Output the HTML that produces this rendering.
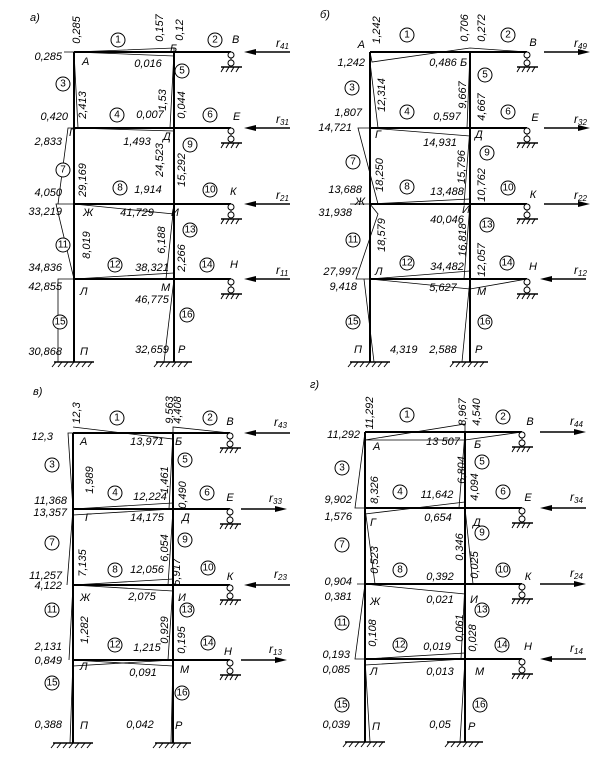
<!DOCTYPE html>
<html><head><meta charset="utf-8"><style>
html,body{margin:0;padding:0;background:#fff}
svg{display:block}
text{font-family:"Liberation Sans",sans-serif;font-style:italic;font-size:11px;fill:#000;dominant-baseline:middle}
.n{text-anchor:middle;font-size:10px;font-style:normal}
.e{text-anchor:end}
.m{text-anchor:middle}
.c{fill:#fff;stroke:#000;stroke-width:1}
.r{font-size:12px}
</style></head><body>
<svg width="605" height="759" viewBox="0 0 605 759" xmlns="http://www.w3.org/2000/svg">
<defs>
<g id="frame">
 <g stroke="#000" stroke-width="2" fill="none">
  <line x1="0" y1="0" x2="0" y2="310"/><line x1="100" y1="0" x2="100" y2="310"/>
  <line x1="0" y1="0" x2="157" y2="0"/><line x1="0" y1="76" x2="157" y2="76"/>
  <line x1="0" y1="152" x2="157" y2="152"/><line x1="0" y1="227" x2="157" y2="227"/>
 </g>
 <g stroke="#000" stroke-width="1" fill="none">
  <line x1="-20" y1="310" x2="20" y2="310" stroke-width="1.5"/>
  <path d="M-18 310l-4 5M-12 310l-4 5M-6 310l-4 5M0 310l-4 5M6 310l-4 5M12 310l-4 5M18 310l-4 5"/>
  <line x1="82" y1="310" x2="118" y2="310" stroke-width="1.5"/>
  <path d="M84 310l-4 5M90 310l-4 5M96 310l-4 5M102 310l-4 5M108 310l-4 5M114 310l-4 5"/>
 </g>
 <g id="sup">
  <circle cx="157" cy="3" r="3" class="c"/><circle cx="157" cy="11" r="3" class="c"/>
  <line x1="157" y1="6" x2="157" y2="8" stroke="#000"/>
  <line x1="147" y1="15" x2="168" y2="15" stroke="#000" stroke-width="1.5"/>
  <path d="M150 15l-3 5M155 15l-3 5M160 15l-3 5M165 15l-3 5" stroke="#000"/>
 </g>
 <use href="#sup" y="76"/><use href="#sup" y="152"/><use href="#sup" y="227"/>
</g>
<polygon id="al" points="0,0 12,-3 12,3" fill="#000"/>
<polygon id="ar" points="0,0 -12,-3 -12,3" fill="#000"/>
</defs>

<!-- ===== Panel a ===== -->
<g transform="translate(74,52)">
 <use href="#frame"/>
 <g stroke="#000" stroke-width="0.8" fill="none">
  <path d="M-10 0L0 0L4 76M0 0L100 -4L100 4L0 0M100 0l-4 76M0 76L-6 76L-16 152L0 152M0 76l100 3M100 76l57 0M0 152L-18 152L0 227M0 152l100 10M100 152l-8 75L100 227M100 227l57 0M0 227l-16 0 0 83M100 227l-10 83M0 227l100-6"/>
 </g>
 <text x="-44" y="-34">а)</text>
 <text transform="translate(3,-22) rotate(-90)" class="m">0,285</text>
 <text transform="translate(86,-24) rotate(-90)" class="m">0,157</text>
 <text transform="translate(106,-22) rotate(-90)" class="m">0,12</text>
 <text x="96" y="-3">Б</text><text x="158" y="-12">В</text>
 <text x="-12" y="5" class="e">0,285</text><text x="8" y="10">А</text>
 <text x="74" y="12" class="m">0,016</text>
 <text transform="translate(9,53) rotate(-90)" class="m">2,413</text>
 <text transform="translate(89,48) rotate(-90)" class="m">1,53</text>
 <text transform="translate(108,53) rotate(-90)" class="m">0,044</text>
 <text x="-6" y="65" class="e">0,420</text><text x="76" y="63" class="m">0,007</text>
 <text x="159" y="65">Е</text><text x="-5" y="81">Г</text>
 <text x="-12" y="90" class="e">2,833</text><text x="63" y="90" class="m">1,493</text><text x="89" y="85">Д</text>
 <text transform="translate(9,128) rotate(-90)" class="m">29,169</text>
 <text transform="translate(86,108) rotate(-90)" class="m">24,523</text>
 <text transform="translate(108,118) rotate(-90)" class="m">15,292</text>
 <text x="74" y="138" class="m">1,914</text><text x="156" y="140">К</text>
 <text x="-12" y="141" class="e">4,050</text><text x="-12" y="160" class="e">33,219</text>
 <text x="9" y="161">Ж</text><text x="63" y="161" class="m">41,729</text><text x="97" y="161">И</text>
 <text transform="translate(13,193) rotate(-90)" class="m">8,019</text>
 <text transform="translate(88,188) rotate(-90)" class="m">6,188</text>
 <text transform="translate(108,206) rotate(-90)" class="m">2,266</text>
 <text x="-12" y="216" class="e">34,836</text><text x="78" y="216" class="m">38,321</text><text x="156" y="213">Н</text>
 <text x="-12" y="235" class="e">42,855</text><text x="6" y="240">Л</text><text x="87" y="236">М</text>
 <text x="78" y="248" class="m">46,775</text>
 <text x="-12" y="300" class="e">30,868</text><text x="6" y="300">П</text>
 <text x="78" y="298" class="m">32,659</text><text x="104" y="298">Р</text>
 <g>
  <circle cx="44" cy="-12" r="7" class="c"/><text x="44" y="-12" class="n">1</text>
  <circle cx="141" cy="-12" r="7" class="c"/><text x="141" y="-12" class="n">2</text>
  <circle cx="-11" cy="32" r="7" class="c"/><text x="-11" y="32" class="n">3</text>
  <circle cx="108" cy="19" r="7" class="c"/><text x="108" y="19" class="n">5</text>
  <circle cx="43" cy="63" r="7" class="c"/><text x="43" y="63" class="n">4</text>
  <circle cx="136" cy="63" r="7" class="c"/><text x="136" y="63" class="n">6</text>
  <circle cx="-11" cy="118" r="7" class="c"/><text x="-11" y="118" class="n">7</text>
  <circle cx="116" cy="93" r="7" class="c"/><text x="116" y="93" class="n">9</text>
  <circle cx="46" cy="136" r="7" class="c"/><text x="46" y="136" class="n">8</text>
  <circle cx="136" cy="138" r="7" class="c"/><text x="136" y="138" class="n">10</text>
  <circle cx="-11" cy="193" r="7" class="c"/><text x="-11" y="193" class="n">11</text>
  <circle cx="116" cy="178" r="7" class="c"/><text x="116" y="178" class="n">13</text>
  <circle cx="41" cy="213" r="7" class="c"/><text x="41" y="213" class="n">12</text>
  <circle cx="133" cy="213" r="7" class="c"/><text x="133" y="213" class="n">14</text>
  <circle cx="-14" cy="270" r="7" class="c"/><text x="-14" y="270" class="n">15</text>
  <circle cx="113" cy="263" r="7" class="c"/><text x="113" y="263" class="n">16</text>
 </g>
 <g stroke="#000" stroke-width="1.5">
  <line x1="178" y1="0" x2="216" y2="0"/><line x1="178" y1="76" x2="216" y2="76"/>
  <line x1="178" y1="152" x2="216" y2="152"/><line x1="178" y1="227" x2="216" y2="227"/>
 </g>
 <use href="#al" x="170" y="0"/><use href="#al" x="170" y="76"/><use href="#al" x="170" y="152"/><use href="#al" x="170" y="227"/>
 <text x="202" y="-8" class="r">r<tspan font-size="8" dy="3">41</tspan></text>
 <text x="202" y="68" class="r">r<tspan font-size="8" dy="3">31</tspan></text>
 <text x="202" y="144" class="r">r<tspan font-size="8" dy="3">21</tspan></text>
 <text x="202" y="219" class="r">r<tspan font-size="8" dy="3">11</tspan></text>
</g>

<!-- ===== Panel b ===== -->
<g transform="translate(370,52)">
 <use href="#frame"/>
 <g stroke="#000" stroke-width="0.8" fill="none">
  <path d="M0 0L2 10L100 -4L157 0M100 0l-3 76M0 10L8 76L0 76M0 76L100 84M100 76l57 0M0 76l-12 0L8 152M100 76l-6 76M0 152l-20 0M0 152l100-5M100 152l-6 75M0 152l8 10L-14 227L0 227M0 227l100-8M100 227l-8 83M0 227l100 10M0 227l-6 0 10 83M100 237l57-10"/>
 </g>
 <text x="-50" y="-37">б)</text>
 <text x="-5" y="-7" class="e">А</text>
 <text transform="translate(7,-22) rotate(-90)" class="m">1,242</text>
 <text transform="translate(95,-24) rotate(-90)" class="m">0,706</text>
 <text transform="translate(112,-24) rotate(-90)" class="m">0,272</text>
 <text x="163" y="-9" class="m">В</text>
 <text x="-5" y="11" class="e">1,242</text><text x="73" y="11" class="m">0,486</text><text x="90" y="11">Б</text>
 <text transform="translate(12,43) rotate(-90)" class="m">12,314</text>
 <text transform="translate(93,43) rotate(-90)" class="m">9,667</text>
 <text transform="translate(112,55) rotate(-90)" class="m">4,667</text>
 <text x="-8" y="61" class="e">1,807</text><text x="77" y="65" class="m">0,597</text><text x="165" y="66" class="m">Е</text>
 <text x="-18" y="76" class="e">14,721</text><text x="5" y="83">Г</text>
 <text x="70" y="91" class="m">14,931</text><text x="105" y="83">Д</text>
 <text transform="translate(10,123) rotate(-90)" class="m">18,250</text>
 <text transform="translate(92,115) rotate(-90)" class="m">15,796</text>
 <text transform="translate(112,133) rotate(-90)" class="m">10,762</text>
 <text x="-8" y="138" class="e">13,688</text><text x="77" y="140" class="m">13,488</text><text x="163" y="143" class="m">К</text>
 <text x="-5" y="150" class="e">Ж</text><text x="92" y="158">И</text>
 <text x="-18" y="161" class="e">31,938</text><text x="77" y="168" class="m">40,046</text>
 <text transform="translate(12,183) rotate(-90)" class="m">18,579</text>
 <text transform="translate(93,188) rotate(-90)" class="m">16,818</text>
 <text transform="translate(112,208) rotate(-90)" class="m">12,057</text>
 <text x="77" y="215" class="m">34,482</text><text x="163" y="215" class="m">Н</text>
 <text x="-13" y="220" class="e">27,997</text><text x="5" y="220">Л</text>
 <text x="-13" y="235" class="e">9,418</text><text x="73" y="236" class="m">5,627</text><text x="107" y="240">М</text>
 <text x="-8" y="298" class="e">П</text><text x="20" y="298">4,319</text>
 <text x="73" y="298" class="m">2,588</text><text x="105" y="298">Р</text>
 <g>
  <circle cx="37" cy="-17" r="7" class="c"/><text x="37" y="-17" class="n">1</text>
  <circle cx="138" cy="-17" r="7" class="c"/><text x="138" y="-17" class="n">2</text>
  <circle cx="-18" cy="36" r="7" class="c"/><text x="-18" y="36" class="n">3</text>
  <circle cx="115" cy="23" r="7" class="c"/><text x="115" y="23" class="n">5</text>
  <circle cx="37" cy="60" r="7" class="c"/><text x="37" y="60" class="n">4</text>
  <circle cx="138" cy="60" r="7" class="c"/><text x="138" y="60" class="n">6</text>
  <circle cx="-17" cy="110" r="7" class="c"/><text x="-17" y="110" class="n">7</text>
  <circle cx="117" cy="101" r="7" class="c"/><text x="117" y="101" class="n">9</text>
  <circle cx="37" cy="135" r="7" class="c"/><text x="37" y="135" class="n">8</text>
  <circle cx="138" cy="136" r="7" class="c"/><text x="138" y="136" class="n">10</text>
  <circle cx="-17" cy="188" r="7" class="c"/><text x="-17" y="188" class="n">11</text>
  <circle cx="117" cy="173" r="7" class="c"/><text x="117" y="173" class="n">13</text>
  <circle cx="37" cy="211" r="7" class="c"/><text x="37" y="211" class="n">12</text>
  <circle cx="137" cy="211" r="7" class="c"/><text x="137" y="211" class="n">14</text>
  <circle cx="-17" cy="270" r="7" class="c"/><text x="-17" y="270" class="n">15</text>
  <circle cx="115" cy="270" r="7" class="c"/><text x="115" y="270" class="n">16</text>
 </g>
 <g stroke="#000" stroke-width="1.5">
  <line x1="174" y1="0" x2="212" y2="0"/><line x1="174" y1="76" x2="212" y2="76"/>
  <line x1="174" y1="152" x2="212" y2="152"/><line x1="178" y1="227" x2="216" y2="227"/>
 </g>
 <use href="#ar" x="220" y="0"/><use href="#ar" x="220" y="76"/><use href="#ar" x="220" y="152"/><use href="#al" x="170" y="227"/>
 <text x="204" y="-8" class="r">r<tspan font-size="8" dy="3">49</tspan></text>
 <text x="204" y="68" class="r">r<tspan font-size="8" dy="3">32</tspan></text>
 <text x="204" y="144" class="r">r<tspan font-size="8" dy="3">22</tspan></text>
 <text x="204" y="219" class="r">r<tspan font-size="8" dy="3">12</tspan></text>
</g>

<!-- ===== Panel c ===== -->
<g transform="translate(73,433)">
 <use href="#frame"/>
 <g stroke="#000" stroke-width="0.8" fill="none">
  <path d="M0 0l-5 0 5 76M0 -6L100 6L100 -6L157 0M100 0l-4 76M0 76L100 70M0 82L100 76M100 76l57 0M0 76l-6 76M100 76l-5 76M0 152L100 146M0 152L100 158M100 152l57 0M0 152l-4 75M100 152l-5 75M0 227l100 6M0 233l100-6M100 227l57 0M0 227l-3 83M100 227l-2 83"/>
 </g>
 <text x="-40" y="-41">в)</text>
 <text transform="translate(4,-20) rotate(-90)" class="m">12,3</text>
 <text transform="translate(97,-23) rotate(-90)" class="m">9,563</text>
 <text transform="translate(105,-23) rotate(-90)" class="m">4,408</text>
 <text x="157" y="-11" class="m">В</text>
 <text x="-20" y="4" class="e">12,3</text><text x="7" y="9">А</text>
 <text x="74" y="9" class="m">13,971</text><text x="102" y="9">Б</text>
 <text transform="translate(17,47) rotate(-90)" class="m">1,989</text>
 <text transform="translate(92,47) rotate(-90)" class="m">1,461</text>
 <text transform="translate(110,62) rotate(-90)" class="m">0,490</text>
 <text x="-6" y="68" class="e">11,368</text><text x="77" y="64" class="m">12,224</text><text x="157" y="65" class="m">Е</text>
 <text x="-6" y="80" class="e">13,357</text><text x="12" y="85">Г</text>
 <text x="74" y="85" class="m">14,175</text><text x="109" y="85">Д</text>
 <text transform="translate(10,130) rotate(-90)" class="m">7,135</text>
 <text transform="translate(92,115) rotate(-90)" class="m">6,054</text>
 <text transform="translate(104,139) rotate(-90)" class="m">5,917</text>
 <text x="-11" y="143" class="e">11,257</text><text x="74" y="137" class="m">12,056</text><text x="157" y="144" class="m">К</text>
 <text x="-11" y="153" class="e">4,122</text>
 <text x="7" y="165">Ж</text><text x="69" y="164" class="m">2,075</text><text x="105" y="165">И</text>
 <text transform="translate(12,197) rotate(-90)" class="m">1,282</text>
 <text transform="translate(92,197) rotate(-90)" class="m">0,929</text>
 <text transform="translate(109,207) rotate(-90)" class="m">0,195</text>
 <text x="-11" y="214" class="e">2,131</text><text x="74" y="215" class="m">1,215</text><text x="155" y="219" class="m">Н</text>
 <text x="-11" y="228" class="e">0,849</text><text x="7" y="234">Л</text>
 <text x="70" y="240" class="m">0,091</text><text x="107" y="237">М</text>
 <text x="-11" y="292" class="e">0,388</text><text x="7" y="293">П</text>
 <text x="67" y="292" class="m">0,042</text><text x="102" y="293">Р</text>
 <g>
  <circle cx="44" cy="-15" r="7" class="c"/><text x="44" y="-15" class="n">1</text>
  <circle cx="137" cy="-15" r="7" class="c"/><text x="137" y="-15" class="n">2</text>
  <circle cx="-21" cy="32" r="7" class="c"/><text x="-21" y="32" class="n">3</text>
  <circle cx="112" cy="27" r="7" class="c"/><text x="112" y="27" class="n">5</text>
  <circle cx="42" cy="60" r="7" class="c"/><text x="42" y="60" class="n">4</text>
  <circle cx="134" cy="60" r="7" class="c"/><text x="134" y="60" class="n">6</text>
  <circle cx="-21" cy="110" r="7" class="c"/><text x="-21" y="110" class="n">7</text>
  <circle cx="112" cy="107" r="7" class="c"/><text x="112" y="107" class="n">9</text>
  <circle cx="42" cy="137" r="7" class="c"/><text x="42" y="137" class="n">8</text>
  <circle cx="135" cy="135" r="7" class="c"/><text x="135" y="135" class="n">10</text>
  <circle cx="-21" cy="177" r="7" class="c"/><text x="-21" y="177" class="n">11</text>
  <circle cx="114" cy="177" r="7" class="c"/><text x="114" y="177" class="n">13</text>
  <circle cx="42" cy="212" r="7" class="c"/><text x="42" y="212" class="n">12</text>
  <circle cx="135" cy="210" r="7" class="c"/><text x="135" y="210" class="n">14</text>
  <circle cx="-21" cy="250" r="7" class="c"/><text x="-21" y="250" class="n">15</text>
  <circle cx="109" cy="260" r="7" class="c"/><text x="109" y="260" class="n">16</text>
 </g>
 <g stroke="#000" stroke-width="1.5">
  <line x1="179" y1="0" x2="217" y2="0"/><line x1="168" y1="76" x2="206" y2="76"/>
  <line x1="179" y1="152" x2="217" y2="152"/><line x1="168" y1="227" x2="206" y2="227"/>
 </g>
 <use href="#al" x="171" y="0"/><use href="#ar" x="214" y="76"/><use href="#al" x="171" y="152"/><use href="#ar" x="214" y="227"/>
 <text x="201" y="-10" class="r">r<tspan font-size="8" dy="3">43</tspan></text>
 <text x="196" y="66" class="r">r<tspan font-size="8" dy="3">33</tspan></text>
 <text x="201" y="142" class="r">r<tspan font-size="8" dy="3">23</tspan></text>
 <text x="196" y="217" class="r">r<tspan font-size="8" dy="3">13</tspan></text>
</g>

<!-- ===== Panel d ===== -->
<g transform="translate(365,432)">
 <use href="#frame"/>
 <g stroke="#000" stroke-width="0.8" fill="none">
  <path d="M0 8L100 -8L100 0M0 8l100 0M100 8l57-8M0 0l-10 76L0 76M100 0l-6 76M0 82L100 70M100 76l57 0M0 76l10 76M100 76l8 76M0 152l-8 0M0 152L100 162M100 152l57 0M0 152l-10 75L0 227M100 152l-4 75M0 227l100-6M0 233L100 227M100 227l57 0M0 227l5 83M100 227l-5 83"/>
 </g>
 <text x="-55" y="-47">г)</text>
 <text transform="translate(5,-19) rotate(-90)" class="m">11,292</text>
 <text transform="translate(98,-20) rotate(-90)" class="m">8,967</text>
 <text transform="translate(112,-20) rotate(-90)" class="m">4,540</text>
 <text x="165" y="-10" class="m">В</text>
 <text x="-5" y="3" class="e">11,292</text><text x="8" y="15">А</text>
 <text x="78" y="10" class="m">13 507</text><text x="109" y="13">Б</text>
 <text transform="translate(10,58) rotate(-90)" class="m">8,326</text>
 <text transform="translate(97,38) rotate(-90)" class="m">6,804</text>
 <text transform="translate(110,55) rotate(-90)" class="m">4,094</text>
 <text x="-13" y="68" class="e">9,902</text><text x="72" y="63" class="m">11,642</text><text x="163" y="66" class="m">Е</text>
 <text x="-13" y="85" class="e">1,576</text><text x="5" y="91">Г</text>
 <text x="73" y="86" class="m">0,654</text><text x="108" y="91">Д</text>
 <text transform="translate(10,128) rotate(-90)" class="m">0,523</text>
 <text transform="translate(95,115) rotate(-90)" class="m">0,346</text>
 <text transform="translate(110,133) rotate(-90)" class="m">0,025</text>
 <text x="-13" y="150" class="e">0,904</text><text x="75" y="145" class="m">0,392</text><text x="163" y="145" class="m">К</text>
 <text x="-13" y="165" class="e">0,381</text><text x="5" y="170">Ж</text>
 <text x="75" y="168" class="m">0,021</text><text x="105" y="168">И</text>
 <text transform="translate(8,201) rotate(-90)" class="m">0,108</text>
 <text transform="translate(95,196) rotate(-90)" class="m">0,061</text>
 <text transform="translate(108,206) rotate(-90)" class="m">0,028</text>
 <text x="-15" y="223" class="e">0,193</text><text x="72" y="215" class="m">0,019</text><text x="163" y="215" class="m">Н</text>
 <text x="-15" y="238" class="e">0,085</text><text x="5" y="240">Л</text>
 <text x="75" y="240" class="m">0,013</text><text x="110" y="240">М</text>
 <text x="-15" y="293" class="e">0,039</text><text x="7" y="295">П</text>
 <text x="75" y="293" class="m">0,05</text><text x="103" y="295">Р</text>
 <g>
  <circle cx="42" cy="-17" r="7" class="c"/><text x="42" y="-17" class="n">1</text>
  <circle cx="138" cy="-15" r="7" class="c"/><text x="138" y="-15" class="n">2</text>
  <circle cx="-23" cy="36" r="7" class="c"/><text x="-23" y="36" class="n">3</text>
  <circle cx="117" cy="30" r="7" class="c"/><text x="117" y="30" class="n">5</text>
  <circle cx="35" cy="60" r="7" class="c"/><text x="35" y="60" class="n">4</text>
  <circle cx="138" cy="60" r="7" class="c"/><text x="138" y="60" class="n">6</text>
  <circle cx="-23" cy="113" r="7" class="c"/><text x="-23" y="113" class="n">7</text>
  <circle cx="117" cy="101" r="7" class="c"/><text x="117" y="101" class="n">9</text>
  <circle cx="35" cy="138" r="7" class="c"/><text x="35" y="138" class="n">8</text>
  <circle cx="138" cy="138" r="7" class="c"/><text x="138" y="138" class="n">10</text>
  <circle cx="-23" cy="191" r="7" class="c"/><text x="-23" y="191" class="n">11</text>
  <circle cx="117" cy="178" r="7" class="c"/><text x="117" y="178" class="n">13</text>
  <circle cx="35" cy="213" r="7" class="c"/><text x="35" y="213" class="n">12</text>
  <circle cx="137" cy="213" r="7" class="c"/><text x="137" y="213" class="n">14</text>
  <circle cx="-23" cy="273" r="7" class="c"/><text x="-23" y="273" class="n">15</text>
  <circle cx="115" cy="273" r="7" class="c"/><text x="115" y="273" class="n">16</text>
 </g>
 <g stroke="#000" stroke-width="1.5">
  <line x1="175" y1="0" x2="213" y2="0"/><line x1="183" y1="76" x2="221" y2="76"/>
  <line x1="175" y1="152" x2="213" y2="152"/><line x1="183" y1="227" x2="221" y2="227"/>
 </g>
 <use href="#ar" x="221" y="0"/><use href="#al" x="175" y="76"/><use href="#ar" x="221" y="152"/><use href="#al" x="175" y="227"/>
 <text x="205" y="-10" class="r">r<tspan font-size="8" dy="3">44</tspan></text>
 <text x="205" y="66" class="r">r<tspan font-size="8" dy="3">34</tspan></text>
 <text x="205" y="142" class="r">r<tspan font-size="8" dy="3">24</tspan></text>
 <text x="205" y="217" class="r">r<tspan font-size="8" dy="3">14</tspan></text>
</g>
</svg>
</body></html>
